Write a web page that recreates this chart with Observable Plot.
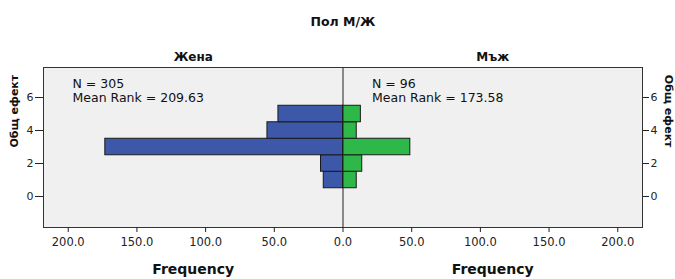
<!DOCTYPE html>
<html>
<head>
<meta charset="utf-8">
<script src="https://cdn.jsdelivr.net/npm/d3@7"></script>
<script src="https://cdn.jsdelivr.net/npm/@observablehq/plot@0.6"></script>
<style>
  html, body { margin: 0; padding: 0; background: #fff; }
</style>
</head>
<body>
<div id="chart"></div>
<script>
const title = "Пол М/Ж";
const groups = ["Жена", "Мъж"];
const groupSide = [-1, 1];
const groupN = [305, 96];
const groupMeanRank = [209.63, 173.58];
const bins = [1, 2, 3, 4, 5];
const femaleFreq = [14, 16, 173, 55, 47];
const maleFreq = [10, 14, 49, 10, 13];
const xTicks = [-200, -150, -100, -50, 0, 50, 100, 150, 200];
const yTicks = [0, 2, 4, 6];
const yLabel = "Общ ефект";
const xLabel = "Frequency";

const xMax = 218;
const yDomain = [-1.88, 7.82];

const bars = [];
bins.forEach((b, i) => {
  bars.push({group: groups[0], bin: b, x1: -femaleFreq[i], x2: 0});
  bars.push({group: groups[1], bin: b, x1: 0, x2: maleFreq[i]});
});
const facets = groups.map((g, i) => ({
  label: g, x: groupSide[i] * xMax / 2, side: groupSide[i],
  nText: `N = ${groupN[i]}`,
  rankText: `Mean Rank = ${groupMeanRank[i].toFixed(2)}`
}));

const chart = Plot.plot({
  width: 675,
  height: 279,
  marginLeft: 43,
  marginRight: 33,
  marginTop: 67,
  marginBottom: 52,
  style: {fontFamily: "DejaVu Sans", fontSize: "11px", background: "#fff", color: "#222", overflow: "visible"},
  x: {domain: [-xMax, xMax]},
  y: {domain: yDomain},
  color: {domain: groups, range: ["#3d58a8", "#2eb84a"]},
  marks: [
    Plot.frame({fill: "#f0f0f0", stroke: "none"}),
    Plot.rect(bars, {x1: "x1", x2: "x2", y1: d => d.bin - 0.5, y2: d => d.bin + 0.5, fill: "group", stroke: "#1a1a1a", strokeWidth: 1}),
    Plot.ruleX([0], {stroke: "#222", strokeWidth: 1}),
    Plot.frame({stroke: "#333", strokeWidth: 1}),
    Plot.axisX({ticks: xTicks, tickSize: 5, tickPadding: 5, tickFormat: d => Math.abs(d).toFixed(1), label: null, fontSize: 11.5, stroke: "#222"}),
    Plot.axisY({anchor: "left", ticks: yTicks, tickSize: 8, tickPadding: 2, label: null, fontSize: 11, stroke: "#222"}),
    Plot.axisY({anchor: "right", ticks: yTicks, tickSize: 6, tickPadding: 2, label: null, fontSize: 11, stroke: "#222"}),
    Plot.text([title], {frameAnchor: "top", dy: -50, fontWeight: "bold", fontSize: 12.5, fill: "#111"}),
    Plot.text(facets, {x: "x", text: "label", frameAnchor: "top", dy: -15, fontWeight: "bold", fontSize: 12, fill: "#111"}),
    Plot.text(facets, {x: "x", text: () => xLabel, frameAnchor: "bottom", dy: 46, fontWeight: "bold", fontSize: 14, fill: "#111"}),
    Plot.text(facets, {x: d => d.side < 0 ? -xMax : 0, text: "nText", frameAnchor: "top", dx: 29, dy: 12, textAnchor: "start", lineAnchor: "top", fontSize: 12.5, fill: "#111"}),
    Plot.text(facets, {x: d => d.side < 0 ? -xMax : 0, text: "rankText", frameAnchor: "top", dx: 29, dy: 26, textAnchor: "start", lineAnchor: "top", fontSize: 12.5, fill: "#111"}),
    Plot.text([yLabel], {frameAnchor: "left", dx: -29, rotate: -90, fontWeight: "bold", fontSize: 11, fill: "#111"}),
    Plot.text([yLabel], {frameAnchor: "right", dx: 26, rotate: 90, fontWeight: "bold", fontSize: 11, fill: "#111"})
  ]
});
document.getElementById("chart").appendChild(chart);
</script>
</body>
</html>
